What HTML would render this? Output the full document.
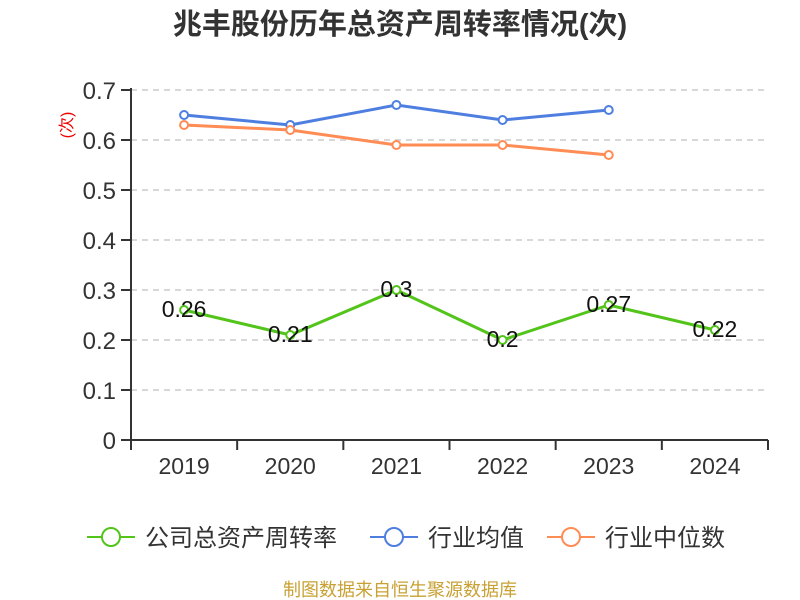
<!DOCTYPE html>
<html><head><meta charset="utf-8"><style>
body{margin:0;background:#fff;}
svg{display:block;font-family:"Liberation Sans","Noto Sans CJK SC",sans-serif;}
</style></head><body>
<svg id="c" width="800" height="600">
<text x="400" y="34" text-anchor="middle" font-size="29" font-weight="bold" fill="#333">兆丰股份历年总资产周转率情况(次)</text>
<text transform="translate(72,125) rotate(-90)" text-anchor="middle" font-size="16" fill="#e00">(次)</text>
<g id="grid"></g><g id="axes"></g><g id="series"></g>
<g>
<g><line x1="87" y1="537" x2="135" y2="537" stroke="#52c41a" stroke-width="2"/><circle cx="111" cy="537" r="9" fill="#fff" stroke="#52c41a" stroke-width="2"/><text x="145" y="546" font-size="24" fill="#333">公司总资产周转率</text></g>
<g><line x1="370" y1="537" x2="418" y2="537" stroke="#4e7fe0" stroke-width="2"/><circle cx="394" cy="537" r="9" fill="#fff" stroke="#4e7fe0" stroke-width="2"/><text x="428" y="546" font-size="24" fill="#333">行业均值</text></g>
<g><line x1="547" y1="537" x2="595" y2="537" stroke="#ff8c55" stroke-width="2"/><circle cx="571" cy="537" r="9" fill="#fff" stroke="#ff8c55" stroke-width="2"/><text x="605" y="546" font-size="24" fill="#333">行业中位数</text></g>
</g>
<text x="400" y="596" text-anchor="middle" font-size="18" fill="#c8a033">制图数据来自恒生聚源数据库</text>
</svg>
<script>
const categories=["2019","2020","2021","2022","2023","2024"];
const companyValues=[0.26,0.21,0.3,0.2,0.27,0.22];
const industryAvg=[0.65,0.63,0.67,0.64,0.66];
const industryMedian=[0.63,0.62,0.59,0.59,0.57];
const yTicks=[0,0.1,0.2,0.3,0.4,0.5,0.6,0.7];
const NS="http://www.w3.org/2000/svg";
const L=131,R=768,T=90,B=440,ymax=0.7;
const bw=(R-L)/categories.length;
const x=i=>L+bw*(i+0.5);
const y=v=>B-(v/ymax)*(B-T);
function mk(t,a,p){const e=document.createElementNS(NS,t);for(const k in a)e.setAttribute(k,a[k]);p.appendChild(e);return e;}
const grid=document.getElementById('grid'),axes=document.getElementById('axes'),ser=document.getElementById('series');
yTicks.forEach(v=>{
 if(v>0){const g=mk('line',{x1:L,x2:R,y1:y(v),y2:y(v),stroke:'#ccc','stroke-width':1.5,'stroke-dasharray':'6,5'},grid);
 
 }
 const tk=mk('line',{x1:L-10,x2:L,y1:y(v),y2:y(v),stroke:'#333','stroke-width':2},axes);
 
 
 const t=mk('text',{x:L-15,y:y(v)+9,'text-anchor':'end','font-size':24,fill:'#333'},axes);t.textContent=String(v);
 
 
});
const ya=mk('line',{x1:L,x2:L,y1:T-2,y2:B,stroke:'#333','stroke-width':2},axes);


const xa=mk('line',{x1:L,x2:R,y1:B,y2:B,stroke:'#333','stroke-width':2},axes);


for(let i=0;i<=categories.length;i++){const tk=mk('line',{x1:L+bw*i,x2:L+bw*i,y1:B,y2:B+10,stroke:'#333','stroke-width':2},axes);
 
 }
categories.forEach((c,i)=>{const t=mk('text',{x:x(i),y:B+34,'text-anchor':'middle','font-size':23,fill:'#333'},axes);t.textContent=c;
 
 });
function line(vals,color,name,labels){
 const g=mk('g',{},ser);
 
 
 mk('polyline',{points:vals.map((v,i)=>x(i)+','+y(v)).join(' '),fill:'none',stroke:color,'stroke-width':3},g);
 vals.forEach((v,i)=>{const p=mk('circle',{cx:x(i),cy:y(v),r:4,fill:'#fff',stroke:color,'stroke-width':2},g);
  
  
  if(labels){const t=mk('text',{x:x(i),y:y(v)+7,'text-anchor':'middle','font-size':23,fill:'#111'},g);t.textContent=String(v);
  
  }});
}
line(industryAvg,'#4e7fe0','industry-average-line',false);
line(industryMedian,'#ff8c55','industry-median-line',false);
line(companyValues,'#52c41a','company-line',true);
</script>
</body></html>
